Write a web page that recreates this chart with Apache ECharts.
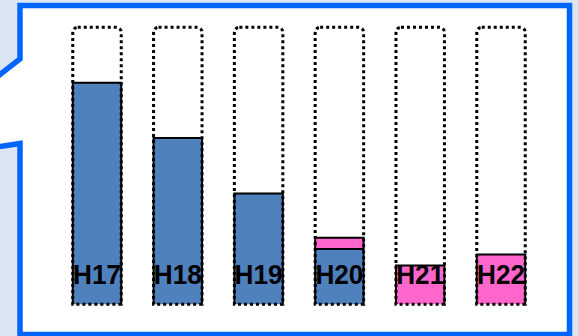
<!DOCTYPE html>
<html>
<head>
<meta charset="utf-8">
<script src="https://cdn.jsdelivr.net/npm/echarts@6/dist/echarts.min.js"></script>
<style>
  html, body { margin: 0; padding: 0; background: #dce6f2; }
  #chart { width: 578px; height: 336px; }
</style>
</head>
<body>
<div id="chart"></div>
<script>
// Fiscal years shown along the bottom
const categories = ['H17', 'H18', 'H19', 'H20', 'H21', 'H22'];
// Blue (existing) share per year, on a 0–100 scale
const blueValues = [80, 60, 40, 20, 0, 0];
// Pink (new) share per year, stacked on top of the blue part
const pinkValues = [0, 0, 0, 4, 14, 18];
// Full capacity outline for each column
const capacityValues = [100, 100, 100, 100, 100, 100];

const BLUE = '#4f81bd';
const PINK = '#ff66cc';
const INK = '#000000';

const chart = echarts.init(document.getElementById('chart'), null, { renderer: 'svg' });

const rows = categories.map((c, i) => [i, blueValues[i], pinkValues[i], capacityValues[i]]);

function renderColumn(params, api) {
  const idx = api.value(0);
  const blue = api.value(1);
  const pink = api.value(2);
  const cap = api.value(3);
  const band = api.size([1, 0])[0];
  const w = band * 0.6;
  const base = api.coord([idx, 0]);
  const cx = base[0];
  const x0 = cx - w / 2;
  const yBase = base[1];
  const yBlue = api.coord([idx, blue])[1];
  const yTop = api.coord([idx, blue + pink])[1];
  const yCap = api.coord([idx, cap])[1];
  const children = [];

  if (blue > 0) {
    children.push({ type: 'rect', shape: { x: x0, y: yBlue, width: w, height: yBase - yBlue },
      style: { fill: BLUE } });
  }
  if (pink > 0) {
    children.push({ type: 'rect', shape: { x: x0, y: yTop, width: w, height: yBlue - yTop },
      style: { fill: PINK } });
  }
  if (blue + pink > 0) {
    // solid outline on the sides and top of the filled part
    children.push({ type: 'polyline', shape: { points: [[x0, yBase], [x0, yTop], [x0 + w, yTop], [x0 + w, yBase]] },
      style: { stroke: INK, lineWidth: 2, fill: null } });
    if (blue > 0 && pink > 0) {
      children.push({ type: 'line', shape: { x1: x0, y1: yBlue, x2: x0 + w, y2: yBlue },
        style: { stroke: INK, lineWidth: 2 } });
    }
  }
  // dotted capacity outline
  children.push({ type: 'rect', shape: { x: x0, y: yCap, width: w, height: yBase - yCap, r: [5, 5, 0, 0] },
    style: { fill: null, stroke: INK, lineWidth: 3, lineDash: [3, 3], lineCap: 'butt' } });
  // year label
  children.push({ type: 'text', x: cx, y: yBase - 29.5, scaleX: 0.97,
    style: { text: categories[idx], x: 0, y: 0, align: 'center', verticalAlign: 'middle',
      fill: INK, font: 'bold 27px "Liberation Sans", Arial, sans-serif' } });

  return { type: 'group', children };
}

chart.setOption({
  backgroundColor: '#dce6f2',
  animation: false,
  graphic: [{
    type: 'polygon',
    z: -10,
    silent: true,
    shape: { points: [[20, 5.5], [569.5, 5.5], [569.5, 334.5], [20, 334.5], [20, 143.5], [-116, 164], [20, 59]] },
    style: { fill: '#ffffff', stroke: '#0066ff', lineWidth: 5.5, lineJoin: 'miter' }
  }],
  grid: { left: 56.6, right: 36.6, top: 27.3, bottom: 31.7 },
  xAxis: { type: 'category', data: categories, show: false },
  yAxis: { type: 'value', min: 0, max: 100, show: false },
  series: [{
    type: 'custom',
    renderItem: renderColumn,
    encode: { x: 0, y: 3 },
    data: rows,
    z: 5
  }]
});
</script>
</body>
</html>
